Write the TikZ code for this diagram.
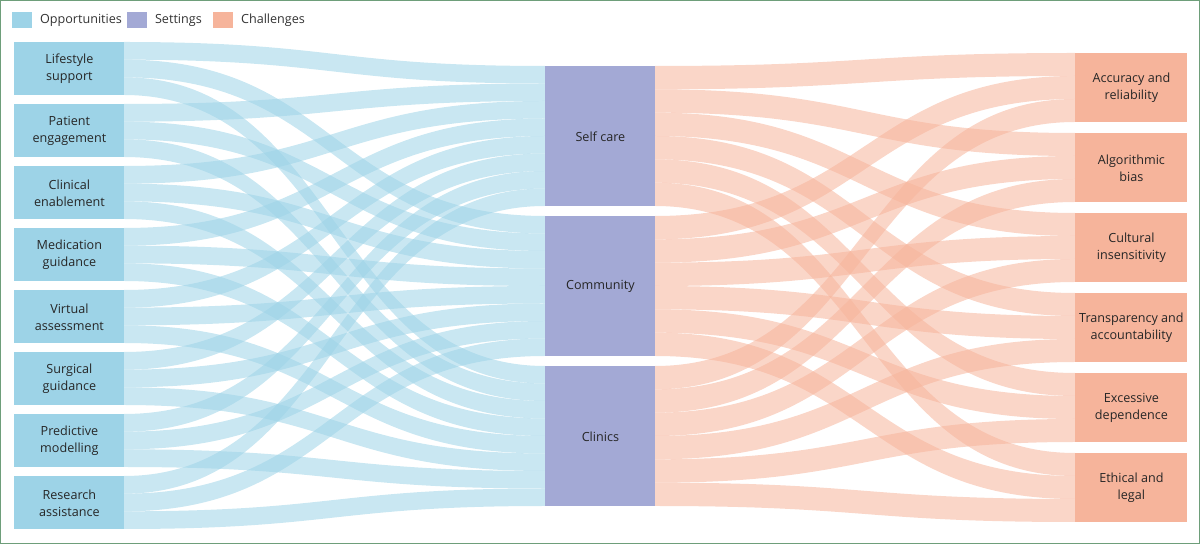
\documentclass[tikz,border=0pt]{standalone}
\usepackage{fontspec}
\setmainfont{Open Sans}
\definecolor{opp}{HTML}{9DD3E7}
\definecolor{set}{HTML}{A3A9D5}
\definecolor{cha}{HTML}{F6B49B}
\definecolor{frame}{HTML}{6E9E7A}
\newcommand\bandshape[7]{%
  \pgfmathsetmacro\xm{(#1+#3)/2}
  \fill[#7,opacity=0.55] (#1,#2) .. controls (\xm,#2) and (\xm,#4) .. (#3,#4)
    -- (#3,{#4+#6}) .. controls (\xm,{#4+#6}) and (\xm,{#2+#5}) .. (#1,{#2+#5}) -- cycle;}
\tikzset{box/.style={minimum width=55pt,inner sep=0pt,align=center,font=\fontsize{6.3}{8.4}\selectfont,text=black!85,anchor=north west},
 leg/.style={anchor=west,font=\fontsize{6.3}{8}\selectfont,text=black!80}}
\begin{document}
\begin{tikzpicture}[x=0.5pt,y=-0.5pt]
\useasboundingbox (0,0) rectangle (1200,544);
\draw[frame,line width=0.6pt] (0.6,0.6) rectangle (1199.4,543.4);
% legend
\fill[opp] (12,12) rectangle (32,28); \node[leg] (lo) at (33,20) {Opportunities};
\fill[set] (127,12) rectangle (147,28); \node[leg] (ls) at (148,20) {Settings};
\fill[cha] (213,12) rectangle (233,28); \node[leg] (lc) at (234,20) {Challenges};
% bands left->middle
\foreach \i in {0,...,7}{\foreach \j in {0,1,2}{%
  \bandshape{124}{42+62*\i+\j*53/3}{545}{66+150*\j+\i*17.5}{53/3}{17.5}{opp}}}
% bands middle->right
\foreach \j in {0,1,2}{\foreach \k in {0,...,5}{%
  \bandshape{655}{66+150*\j+\k*140/6}{1075}{53+80*\k+\j*23}{140/6}{23}{cha}}}
% nodes
\foreach \t [count=\n from 0] in {Lifestyle\\support,Patient\\engagement,Clinical\\enablement,Medication\\guidance,Virtual\\assessment,Surgical\\guidance,Predictive\\modelling,Research\\assistance}{
  \node[box,fill=opp,minimum height=26.5pt] (o\n) at (14,42+62*\n) {\t};}
\foreach \t [count=\n from 0] in {Self care,Community,Clinics}{
  \node[box,fill=set,minimum height=70pt] (s\n) at (545,66+150*\n) {\t};}
\foreach \t [count=\n from 0] in {Accuracy and\\reliability,Algorithmic\\bias,Cultural\\insensitivity,Transparency and\\accountability,Excessive\\dependence,Ethical and\\legal}{
  \node[box,fill=cha,minimum height=34.5pt,minimum width=56pt] (c\n) at (1075,53+80*\n) {\t};}
\end{tikzpicture}
\end{document}
